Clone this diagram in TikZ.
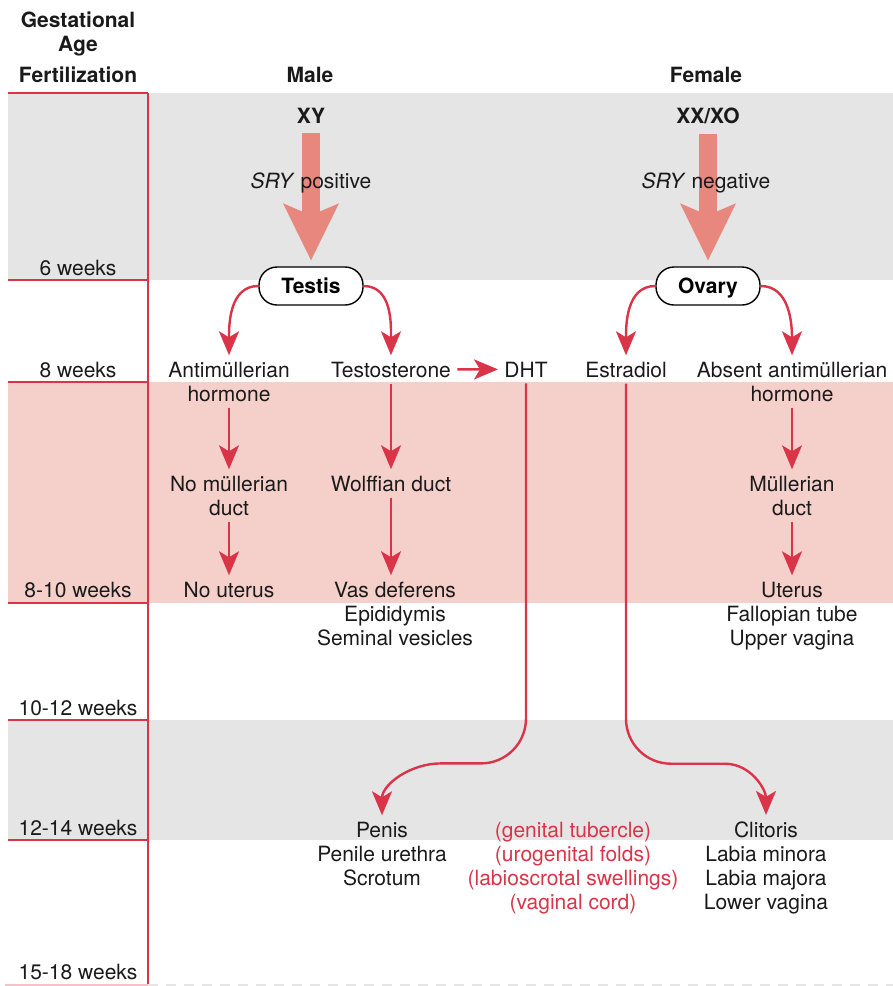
\documentclass[tikz,border=0pt]{standalone}
\usepackage{fontspec}
\setmainfont{TeX Gyre Heros}
\usepackage{xcolor}
\usepackage{tikz}
\usetikzlibrary{arrows.meta, positioning}

\definecolor{bandgray}{HTML}{E5E5E5}
\definecolor{bandpink}{HTML}{F5D0CA}
\definecolor{linered}{HTML}{D93448}
\definecolor{bigred}{HTML}{E8877E}
\definecolor{inkblack}{HTML}{1A1A1A}

\begin{document}
\begin{tikzpicture}[
    x=0.5pt, y=-0.5pt,
    lbl/.style={align=center, font=\fontsize{10.5}{12}\selectfont, text=inkblack, inner sep=3pt, anchor=base},
    head/.style={lbl, font=\fontsize{10.5}{12}\selectfont\bfseries},
    redlbl/.style={lbl, text=linered},
    gonad/.style={draw, line width=0.7pt, rounded corners=9pt, minimum width=52pt, minimum height=19pt, fill=white, font=\fontsize{10.5}{12}\selectfont\bfseries, inner sep=0pt, text height=7.5pt, text depth=0pt},
    arrow/.style={line width=1.2pt, draw=linered, -{Stealth[length=12pt,width=10pt,inset=3pt]}},
    bigarrow/.style={line width=9pt, draw=bigred, -{Stealth[length=28.5pt,width=28pt,inset=6pt,line width=0pt]}, shorten <=2pt, shorten >=3pt},
    divider/.style={line width=1pt, draw=linered}
]
\useasboundingbox (0,0) rectangle (893,986);

% Background bands
\fill[bandgray] (8,93) rectangle (893,280);
\fill[bandpink] (8,382) rectangle (893,603);
\fill[bandgray] (8,720) rectangle (893,840);

% Gestational age column
\draw[divider] (8,93) -- (148,93);
\draw[divider] (148,93) -- (148,986);
\foreach \y in {280,382,603,720,840}
    \draw[divider] (8,\y) -- (148,\y);
\draw[line width=1pt, draw=linered!30] (5,985) -- (148,985);
\draw[line width=1pt, draw=bandgray, dash pattern=on 5pt off 4pt] (148,985) -- (893,985);

% (multi-line labels sit on the baseline of their last line)
\node[head] (gest) at (78,51) {Gestational\\Age};
\node[head] (fert) at (78,82) {Fertilization};
\foreach \y/\t [count=\i] in {275/6 weeks, 377/8 weeks, 597/8-10 weeks, 715/10-12 weeks, 835/12-14 weeks, 979/15-18 weeks}
    \node[lbl] (wk\i) at (78,\y) {\t};

% Headers and karyotypes
\node[head] (male) at (310,82) {Male};
\node[head] (female) at (706,82) {Female};
\node[head] (xy) at (311,123) {XY};
\node[head] (xx) at (708,123) {XX/XO};

% Gonads
\node[gonad] (testis) at (311,286) {Testis};
\node[gonad] (ovary) at (708,286) {Ovary};

\draw[bigarrow] (xy.south) -- (testis.north);
\draw[bigarrow] (xx.south) -- (ovary.north);

\node[lbl] (srypos) at (311,188) {\textit{SRY} positive};
\node[lbl] (sryneg) at (706,188) {\textit{SRY} negative};

% 8 weeks
\node[lbl] (amh) at (229,401) {Antimüllerian\\hormone};
\node[lbl] (testo) at (391,377) {Testosterone};
\node[lbl] (dht) at (526,377) {DHT};
\node[lbl] (estr) at (626,377) {Estradiol};
\node[lbl] (noamh) at (792,401) {Absent antimüllerian\\hormone};

% Ducts
\node[lbl] (nomd) at (229,515) {No müllerian\\duct};
\node[lbl] (wolff) at (391,491) {Wolffian duct};
\node[lbl] (md) at (792,515) {Müllerian\\duct};

% 8-10 weeks
\node[lbl] (nout) at (229,597) {No uterus};
\node[lbl] (vas) at (395,645) {Vas deferens\\Epididymis\\Seminal vesicles};
\node[lbl] (ut) at (792,645) {Uterus\\Fallopian tube\\Upper vagina};

% External genitalia
\node[lbl] (penis) at (382,885) {Penis\\Penile urethra\\Scrotum};
\node[redlbl] (anlage) at (573,909) {(genital tubercle)\\(urogenital folds)\\(labioscrotal swellings)\\(vaginal cord)};
\node[lbl] (clit) at (766,909) {Clitoris\\Labia minora\\Labia majora\\Lower vagina};

% Connections
\draw[arrow] (testis.west) to[out=180,in=90] (amh.north);
\draw[arrow] (testis.east) to[out=0,in=90] (testo.north);
\draw[arrow] (ovary.west) to[out=180,in=90] (estr.north);
\draw[arrow] (ovary.east) to[out=0,in=90] (noamh.north);
\draw[arrow] (testo) -- (dht);
\draw[arrow] (amh) -- (nomd);
\draw[arrow] (nomd) -- (nout);
\draw[arrow] (testo) -- (wolff);
\draw[arrow] (wolff.south) -- (wolff.south |- vas.north);
\draw[arrow] (noamh) -- (md);
\draw[arrow] (md) -- (ut);
\draw[arrow] (dht.south) -- ++(0,335) to[out=-90,in=0] ++(-45,45) -- ++(-40,0) to[out=180,in=90] (penis.north);
\draw[arrow] (estr.south) -- ++(0,335) to[out=-90,in=180] ++(45,45) -- ++(54,0) to[out=0,in=90] (clit.north);

\end{tikzpicture}
\end{document}
